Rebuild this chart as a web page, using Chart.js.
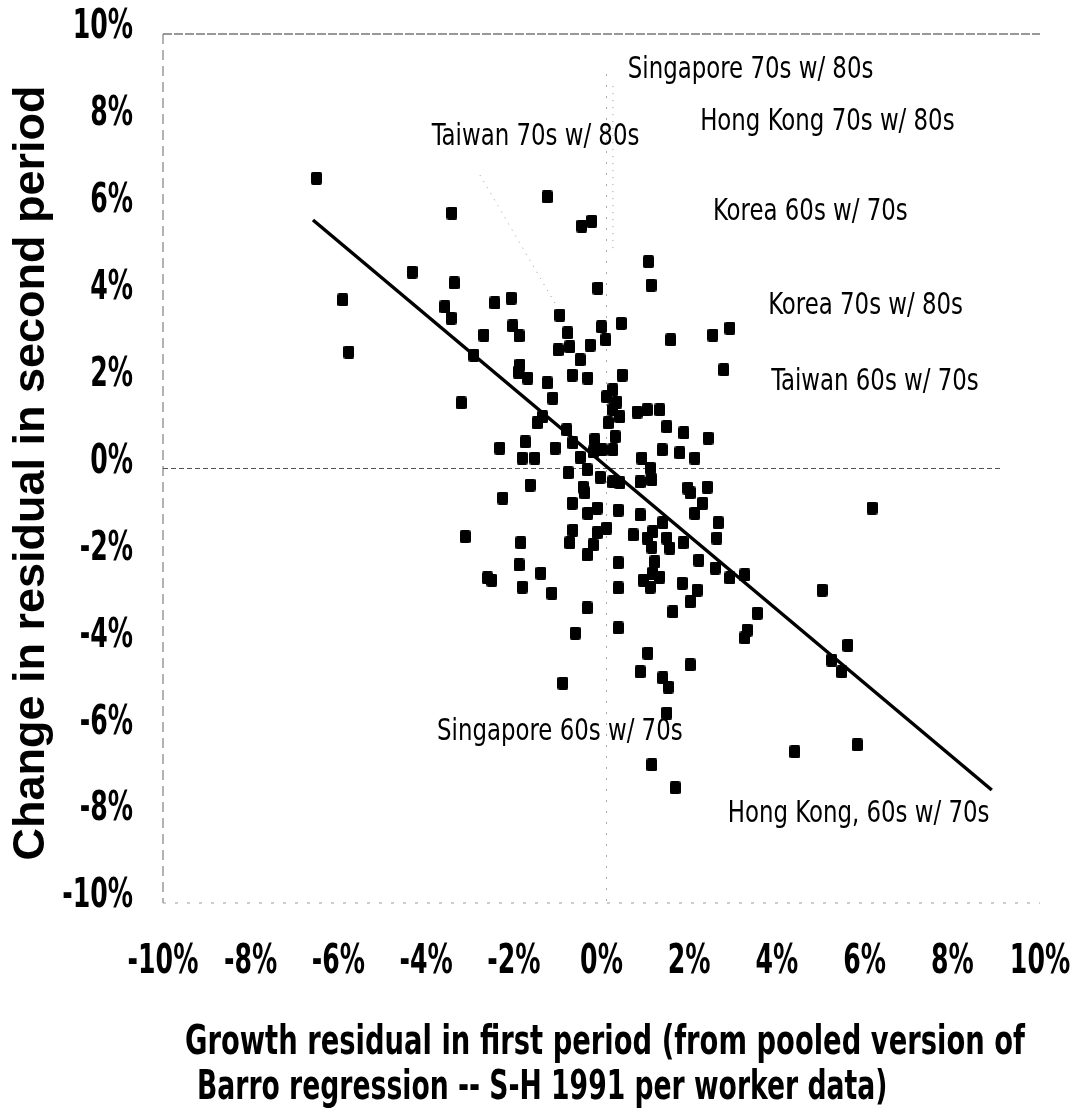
<!DOCTYPE html>
<html>
<head>
<meta charset="utf-8">
<title>Growth residual scatter</title>
<script src="https://cdn.jsdelivr.net/npm/chart.js@4.4.1/dist/chart.umd.min.js"></script>
<style>
  body { margin: 0; background: #fff; }
  canvas { display: block; }
</style>
</head>
<body>
<canvas id="scatterChart" width="1090" height="1113"></canvas>
<script>
// data (percent)
const firstPeriod = [
  -6.50, -5.90, -5.76, -3.41, -4.32, -3.36, -3.57, -3.43, -3.20, -2.91,
  -2.68, -2.43, -2.06, -2.02, -1.88, -1.24, -0.45, -0.22, -0.08, -0.95,
  -0.77, 0.00, 0.10, 0.45, -0.99, -0.72, -0.26, -0.67, -0.31, -0.49,
  -1.86, -1.90, -1.68, -1.24, -1.11, 0.12, 0.26, 0.15, 0.31, 0.26,
  -1.47, -1.34, -2.32, -1.74, -1.81, -1.52, -1.06, -0.79, -0.65, -0.49,
  -0.15, -0.19, -0.76, -0.33, -0.03, -1.63, 0.26, -0.42,
  1.07, 1.13, 1.58, 2.54, 2.93, 2.79, 0.47, 0.26, 0.35, 0.42,
  0.81, 1.04, 1.33, 1.49, 1.88, 2.43, 1.38, 1.79, 2.13, 0.92,
  1.11, 0.01, 1.15, 0.88, 0.42, 1.97, 2.41,
  -2.25, -0.38, -0.67, -0.10, -0.31, 0.38, 0.88, 2.02, 2.31, 2.13,
  -0.65, -0.72, -0.10, -0.19, 0.12, -0.33, 0.72, 1.04, 1.17, 1.15,
  1.40, 1.49, 1.56, 1.86, 2.66, 2.63, -3.11, -1.84, -1.88, -2.50,
  -2.60, -1.81, -1.38, -1.13, 0.38, 0.38, 1.22, 1.17, 0.95, 1.33,
  1.11, 1.84, 2.18, 2.02, 1.63, 2.22, 2.59, 2.93, 3.27, 3.55,
  3.32, 3.27, -0.33, -0.60, 0.38, 1.06, 0.88, 2.02, 1.40, 1.52,
  -0.88, 1.49, 1.15, 1.68, 5.03, 6.17, 5.62, 5.25, 5.48, 5.83,
  4.41
];
const secondChange = [
  6.68, 3.88, 2.68, 5.88, 4.52, 4.27, 3.72, 3.46, 1.51, 2.61,
  3.07, 3.81, 3.92, 3.28, 3.05, 6.25, 5.58, 5.69, 4.15, 3.53,
  3.12, 3.26, 2.96, 3.34, 2.73, 2.80, 2.84, 2.15, 2.08, 2.50,
  2.38, 2.22, 2.08, 1.97, 1.62, 1.65, 1.35, 1.05, 0.73, 0.43,
  1.05, 1.19, 0.47, 0.61, 0.24, 0.24, 0.47, 0.89, 0.59, 0.26,
  0.66, 0.38, -0.10, -0.03, -0.20, -0.38, -0.31, -0.43,
  4.76, 4.22, 2.96, 3.07, 3.23, 2.27, 2.15, 1.81, 1.53, 1.19,
  1.30, 1.35, 1.35, 0.96, 0.82, 0.70, 0.43, 0.36, 0.24, 0.24,
  0.01, 0.43, -0.26, -0.31, -0.33, -0.45, -0.43,
  -0.68, -0.56, -0.80, -0.91, -1.03, -0.96, -1.07, -0.56, -0.80, -1.03,
  -1.42, -1.71, -1.48, -1.76, -1.37, -1.99, -1.53, -1.60, -1.46, -1.81,
  -1.25, -1.60, -1.83, -1.71, -1.25, -1.60, -1.57, -1.71, -2.22, -2.57,
  -2.52, -2.73, -2.41, -2.87, -2.17, -2.75, -2.15, -2.41, -2.57, -2.50,
  -2.73, -2.64, -2.80, -3.07, -3.30, -2.11, -2.29, -2.52, -2.45, -3.33,
  -3.72, -3.90, -3.21, -3.79, -3.67, -4.25, -4.68, -4.52, -4.82, -5.03,
  -4.94, -5.63, -6.82, -7.35, -2.80, -0.91, -4.07, -4.41, -4.68, -6.36,
  -6.52
];

// fitted regression line end points
const fitX = [-6.58, 8.9];
const fitY = [5.72, -7.4];

const tickValues = [-10, -8, -6, -4, -2, 0, 2, 4, 6, 8, 10];
const tickLabels = tickValues.map((v) => v + "%");

const labelTexts = [
  "Singapore 70s w/ 80s",
  "Hong Kong 70s w/ 80s",
  "Taiwan 70s w/ 80s",
  "Korea 60s w/ 70s",
  "Korea 70s w/ 80s",
  "Taiwan 60s w/ 70s",
  "Singapore 60s w/ 70s",
  "Hong Kong, 60s w/ 70s"
];
// label anchors (left edge, baseline) in axis units
const labelAnchors = [
  [0.60, 8.99], [2.25, 7.79], [-3.87, 7.45], [2.54, 5.72],
  [3.80, 3.56], [3.87, 1.81], [-3.75, -6.25], [2.88, -8.14]
];

const narrow = '"Liberation Sans Narrow", "DejaVu Sans Condensed", sans-serif';

// square marker
const marker = document.createElement("canvas");
marker.width = 11;
marker.height = 13;
const mctx = marker.getContext("2d");
mctx.fillStyle = "#000";
mctx.beginPath();
mctx.roundRect(0, 0, 11, 13, 2);
mctx.fill();

const points = firstPeriod.map((x, i) => ({ x: x, y: secondChange[i] }));
const fitLine = fitX.map((x, i) => ({ x: x, y: fitY[i] }));

// text squeezed horizontally (no narrow font installed)
function squeezed(ctx, text, x, y, sx, align) {
  ctx.save();
  ctx.translate(x, y);
  ctx.scale(sx, 1);
  ctx.textAlign = align;
  ctx.fillText(text, 0, 0);
  ctx.restore();
}

function dashed(ctx, color, dash, x1, y1, x2, y2) {
  ctx.strokeStyle = color;
  ctx.setLineDash(dash);
  ctx.beginPath();
  ctx.moveTo(x1, y1);
  ctx.lineTo(x2, y2);
  ctx.stroke();
}

const decorations = {
  id: "decorations",
  beforeDatasetsDraw(chart) {
    const { ctx, chartArea: a, scales } = chart;
    const x0 = scales.x.getPixelForValue(0);
    const y0 = scales.y.getPixelForValue(0);
    const px = (v) => scales.x.getPixelForValue(v);
    const py = (v) => scales.y.getPixelForValue(v);
    ctx.save();
    ctx.lineWidth = 1;
    // frame
    dashed(ctx, "#333", [9, 2], a.left, a.top, a.right, a.top);
    dashed(ctx, "#666", [10, 6], a.left, a.top, a.left, a.bottom);
    dashed(ctx, "#999", [3, 9], a.left, a.bottom, a.right, a.bottom);
    // zero lines
    dashed(ctx, "#555", [5, 3], a.left, y0, a.right - 40, y0);
    dashed(ctx, "#aaa", [2, 9], x0 + 5, a.top + 40, x0 + 5, a.bottom);
    // faint leader lines
    dashed(ctx, "#999", [1, 6], px(-2.77), py(6.75), px(-1.0), py(3.7));
    dashed(ctx, "#999", [1, 6], px(0.26), py(8.8), px(0.26), py(5.0));
    ctx.restore();
  },
  afterDraw(chart) {
    const { ctx, chartArea: a, scales } = chart;
    ctx.save();
    ctx.fillStyle = "#000";

    // tick labels
    ctx.font = "bold 40px " + narrow;
    ctx.textBaseline = "middle";
    tickValues.forEach((v, i) => {
      squeezed(ctx, tickLabels[i], scales.x.getPixelForValue(v), 963, 0.7, "center");
      squeezed(ctx, tickLabels[i], a.left - 30, scales.y.getPixelForValue(v) - 6, 0.7, "right");
    });

    // annotations
    ctx.textBaseline = "alphabetic";
    ctx.font = "31px " + narrow;
    labelTexts.forEach((t, i) => {
      const [lx, ly] = labelAnchors[i];
      squeezed(ctx, t, scales.x.getPixelForValue(lx), scales.y.getPixelForValue(ly), 0.82, "left");
    });

    // x axis title
    ctx.font = "bold 40px " + narrow;
    squeezed(ctx, "Growth residual in first period (from pooled version of", 185, 1054, 0.761, "left");
    squeezed(ctx, "Barro regression -- S-H 1991 per worker data)", 197, 1099, 0.74, "left");

    // y axis title
    ctx.translate(32, 473);
    ctx.rotate(-Math.PI / 2);
    ctx.textAlign = "center";
    ctx.textBaseline = "middle";
    ctx.font = 'bold 45px "Liberation Sans", Arial, sans-serif';
    ctx.fillText("Change in residual in second period", 0, 0);
    ctx.restore();
  }
};

new Chart(document.getElementById("scatterChart"), {
  type: "scatter",
  data: {
    datasets: [
      {
        label: "Residuals",
        data: points,
        pointStyle: marker,
        pointRadius: 6,
        pointHoverRadius: 6
      },
      {
        label: "Fit",
        data: fitLine,
        showLine: true,
        borderColor: "#000",
        borderWidth: 3.5,
        pointRadius: 0,
        pointHoverRadius: 0
      }
    ]
  },
  options: {
    responsive: false,
    animation: false,
    events: [],
    layout: { padding: { top: 34, right: 50, left: 0, bottom: 0 } },
    plugins: {
      legend: { display: false },
      tooltip: { enabled: false }
    },
    scales: {
      x: {
        type: "linear",
        min: -10,
        max: 10,
        afterBuildTicks: (scale) => {
          scale.ticks = tickValues.map((v) => ({ value: v }));
        },
        afterFit: (scale) => {
          scale.height = 210;
        },
        grid: { display: false, drawTicks: false },
        border: { display: false },
        ticks: { display: false }
      },
      y: {
        type: "linear",
        min: -10,
        max: 10,
        afterBuildTicks: (scale) => {
          scale.ticks = tickValues.map((v) => ({ value: v }));
        },
        afterFit: (scale) => {
          scale.width = 163;
        },
        grid: { display: false, drawTicks: false },
        border: { display: false },
        ticks: { display: false }
      }
    }
  },
  plugins: [decorations]
});
</script>
</body>
</html>
